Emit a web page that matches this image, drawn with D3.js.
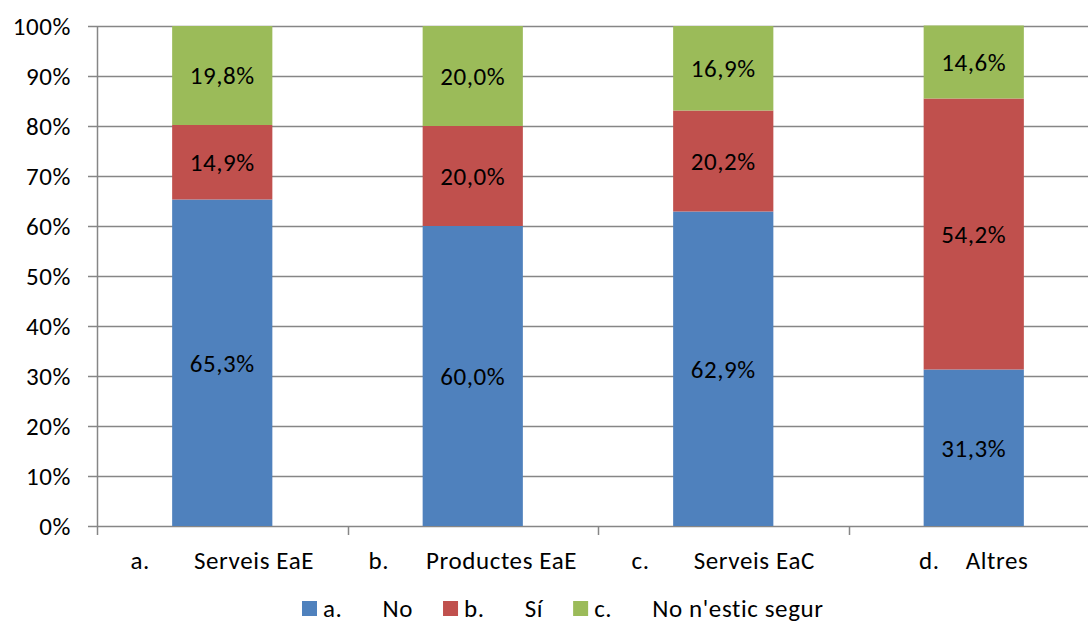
<!DOCTYPE html>
<html>
<head>
<meta charset="utf-8">
<script src="https://cdn.jsdelivr.net/npm/d3@7"></script>
<style>
  body { margin: 0; background: #fff; }
  text { font-family: Carlito, Lato, "Liberation Sans", sans-serif; fill: #000; letter-spacing: 0.6px; }
</style>
</head>
<body>
<svg id="chart" width="1088" height="624"></svg>
<script>
const categories = ["Serveis EaE", "Productes EaE", "Serveis EaC", "Altres"];
const catPrefix = ["a.", "b.", "c.", "d."];
const seriesNames = ["No", "Sí", "No n'estic segur"];
const seriesPrefix = ["a.", "b.", "c."];
const seriesNo = [65.3, 60.0, 62.9, 31.3];
const seriesSi = [14.9, 20.0, 20.2, 54.2];
const seriesNS = [19.8, 20.0, 16.9, 14.6];
const yTicks = [0, 10, 20, 30, 40, 50, 60, 70, 80, 90, 100];
const colors = ["#4F81BD", "#C0504D", "#9BBB59"];

// tab gaps between "a." and the name (as in the original labels)
const labelGaps = [44, 37, 44, 26];

let width = 1088;
let height = 624;
let fs = 25;
let margin = { top: 26, left: 97, bottom: 98 };
let svg = d3.select("#chart");

let x = d3.scaleBand()
    .domain(categories)
    .range([margin.left, margin.left + 1002])
    .paddingInner(0)
    .paddingOuter(0);

let y = d3.scaleLinear()
    .domain([0, 100])
    .range([height - margin.bottom, margin.top]);

let rows = categories.map((c, i) => ({
    cat: c, No: seriesNo[i], Si: seriesSi[i], NS: seriesNS[i]
}));
let stack = d3.stack().keys(["No", "Si", "NS"])(rows);

// gridlines
svg.append("g")
    .selectAll("line")
    .data(yTicks)
    .enter()
    .append("line")
    .attr("x1", margin.left - 9)
    .attr("x2", width)
    .attr("y1", d => Math.round(y(d)) + 0.5)
    .attr("y2", d => Math.round(y(d)) + 0.5)
    .attr("stroke", "#868686")
    .attr("stroke-width", 1.5);

svg.append("g")
    .selectAll("text")
    .data(yTicks)
    .enter()
    .append("text")
    .attr("x", margin.left - 26)
    .attr("y", d => y(d))
    .attr("dy", "0.35em")
    .attr("text-anchor", "end")
    .attr("font-size", fs)
    .text(d => d + "%");

// bars
let bw = x.bandwidth() * 0.4;
svg.append("g")
    .selectAll("g")
    .data(stack)
    .enter()
    .append("g")
    .attr("fill", (d, i) => colors[i])
    .selectAll("rect")
    .data(d => d)
    .enter()
    .append("rect")
    .attr("x", d => x(d.data.cat) + (x.bandwidth() - bw) / 2)
    .attr("width", bw)
    .attr("y", d => y(d[1]))
    .attr("height", d => y(d[0]) - y(d[1]));

// bar labels
stack.forEach((s, si) => {
    svg.append("g")
        .selectAll("text")
        .data(s)
        .enter()
        .append("text")
        .attr("x", d => x(d.data.cat) + x.bandwidth() / 2)
        .attr("y", d => y((d[0] + d[1]) / 2))
        .attr("dy", "0.35em")
        .attr("text-anchor", "middle")
        .attr("font-size", fs)
        .text(d => (d[1] - d[0]).toFixed(1).replace(".", ",") + "%");
});

// axes lines
let x0 = margin.left + 0.5;
svg.append("line")
    .attr("x1", x0).attr("x2", x0)
    .attr("y1", margin.top).attr("y2", y(0))
    .attr("stroke", "#868686").attr("stroke-width", 1.5);

let bounds = categories.map(c => x(c)).concat([x.range()[1]]);
svg.append("g")
    .selectAll("line")
    .data(bounds)
    .enter()
    .append("line")
    .attr("x1", d => Math.round(d) + 0.5)
    .attr("x2", d => Math.round(d) + 0.5)
    .attr("y1", y(0))
    .attr("y2", y(0) + 9)
    .attr("stroke", "#868686")
    .attr("stroke-width", 1.5);

// x labels: prefix + tab gap + name, centred in band
categories.forEach((c, i) => {
    let g = svg.append("g");
    let p = g.append("text").attr("font-size", fs).attr("y", 569).text(catPrefix[i]);
    let n = g.append("text").attr("font-size", fs).attr("y", 569).text(c);
    let pw = p.node().getComputedTextLength();
    let nw = n.node().getComputedTextLength();
    let gap = labelGaps[i];
    let start = x(c) + x.bandwidth() / 2 - (pw + gap + nw) / 2;
    p.attr("x", start);
    n.attr("x", start + pw + gap);
});

// legend
let legend = svg.append("g");
let lx = 302;
seriesNames.forEach((s, i) => {
    legend.append("rect")
        .attr("x", lx).attr("y", 601)
        .attr("width", 15).attr("height", 15)
        .attr("fill", colors[i]);
    let p = legend.append("text").attr("font-size", fs).attr("x", lx + 21).attr("y", 617).text(seriesPrefix[i]);
    let pw = p.node().getComputedTextLength();
    let n = legend.append("text").attr("font-size", fs).attr("x", lx + 21 + pw + 40).attr("y", 617).text(s);
    let nw = n.node().getComputedTextLength();
    lx = lx + 21 + pw + 40 + nw + 30;
});
</script>
</body>
</html>
